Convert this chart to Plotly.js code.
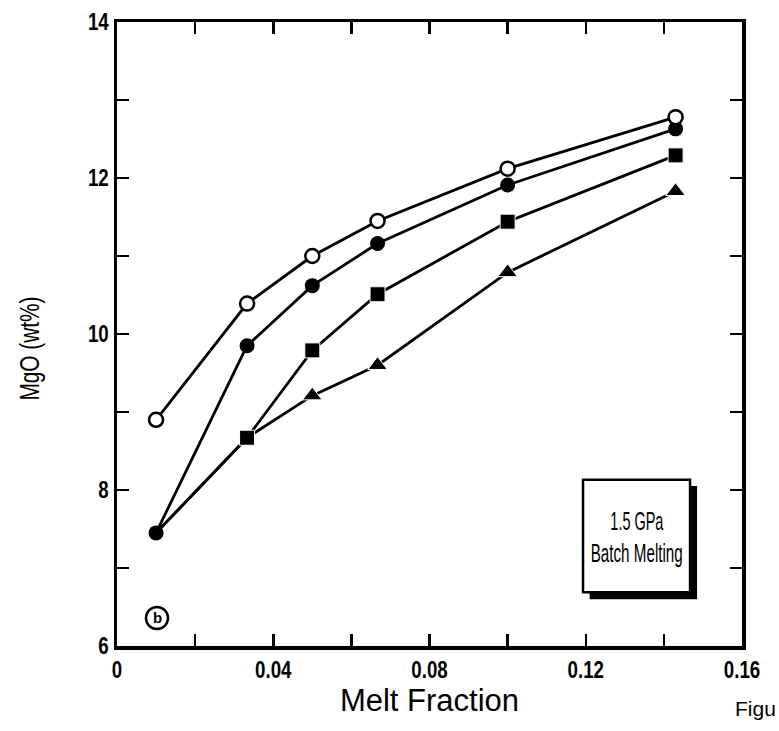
<!DOCTYPE html>
<html>
<head>
<meta charset="utf-8">
<script src="https://cdn.plot.ly/plotly-3.0.1.min.js"></script>
<style>html,body{margin:0;padding:0;background:#fff;}</style>
</head>
<body>
<div id="chart" style="width:779px;height:731px;"></div>
<script>
// Melt fraction values
const meltFraction = [0.01, 0.0333, 0.05, 0.0667, 0.10, 0.143];
// MgO (wt%) series
const mgoOpenCircle   = [8.90, 10.39, 11.00, 11.45, 12.12, 12.78];
const mgoFilledCircle = [7.45, 9.85, 10.62, 11.16, 11.91, 12.63];
const mgoSquare       = [7.45, 8.67, 9.79, 10.51, 11.44, 12.29];
const mgoTriangle     = [7.45, 8.67, 9.21, 9.60, 10.79, 11.83];
// tick labels
const xTickVals = [0, 0.04, 0.08, 0.12, 0.16];
const xTickText = ['0', '0.04', '0.08', '0.12', '0.16'];
const yTickVals = [6, 8, 10, 12, 14];
const yTickText = ['6', '8', '10', '12', '14'];

const lineStyle = {color: '#000', width: 2.8};
const traces = [
  {x: meltFraction, y: mgoTriangle, mode: 'lines+markers', line: lineStyle,
   marker: {symbol: 'triangle-up', color: '#000', opacity: 1, size: [0, 0, 17, 17, 17, 17]}},
  {x: meltFraction, y: mgoSquare, mode: 'lines+markers', line: lineStyle,
   marker: {symbol: 'square', color: '#000', opacity: 1, size: [0, 15, 15, 15, 15, 15]}},
  {x: meltFraction, y: mgoFilledCircle, mode: 'lines+markers', line: lineStyle,
   marker: {symbol: 'circle', color: '#000', opacity: 1, size: 15}},
  {x: meltFraction, y: mgoOpenCircle, mode: 'lines+markers', line: lineStyle,
   marker: {symbol: 'circle', color: '#fff', opacity: 1, size: 14, line: {color: '#000', width: 2.5}}}
];

const fontFam = 'Liberation Sans, Arial, sans-serif';
const axisCommon = {
  showgrid: false, zeroline: false, showline: true, linecolor: '#000', linewidth: 3.5,
  mirror: 'ticks', ticks: 'inside', ticklen: 12, tickwidth: 2.5, tickcolor: '#000',
  tickfont: {family: fontFam, size: 24, color: '#000', weight: 'bold'}
};

const layout = {
  width: 779, height: 731,
  margin: {l: 117, r: 37, t: 22, b: 85},
  paper_bgcolor: '#fff', plot_bgcolor: '#fff',
  showlegend: false,
  xaxis: Object.assign({}, axisCommon, {
    range: [0, 0.16], tickmode: 'array', tickvals: xTickVals, ticktext: xTickText,
    minor: {dtick: 0.02, tick0: 0, ticks: 'inside', ticklen: 12, tickwidth: 2.5, tickcolor: '#000'},
    title: {text: 'Melt Fraction', font: {family: fontFam, size: 31, color: '#000'}, standoff: 0}
  }),
  yaxis: Object.assign({}, axisCommon, {
    range: [6, 14], tickmode: 'array', tickvals: yTickVals, ticktext: yTickText,
    minor: {dtick: 1, tick0: 6, ticks: 'inside', ticklen: 12, tickwidth: 2.5, tickcolor: '#000'}
  }),
  shapes: [
    {type: 'rect', xref: 'x', yref: 'y', x0: 0.1210, x1: 0.1485, y0: 6.60, y1: 8.05,
     fillcolor: '#000', line: {width: 0}},
    {type: 'rect', xref: 'x', yref: 'y', x0: 0.1193, x1: 0.1467, y0: 6.69, y1: 8.13,
     fillcolor: '#fff', line: {color: '#000', width: 2.5}},
    {type: 'circle', xref: 'x', yref: 'y', x0: 0.00742, x1: 0.01306, y0: 6.218, y1: 6.50,
     fillcolor: 'rgba(0,0,0,0)', line: {color: '#000', width: 2.5}}
  ],
  annotations: [
    {xref: 'x', yref: 'y', x: 0.1330, y: 7.60, text: '1.5 GPa', showarrow: false,
     font: {family: fontFam, size: 25, color: '#000'}},
    {xref: 'x', yref: 'y', x: 0.1330, y: 7.19, text: 'Batch Melting', showarrow: false,
     font: {family: fontFam, size: 25, color: '#000'}},
    {xref: 'x', yref: 'y', x: 0.01024, y: 6.36, text: '<b>b</b>', showarrow: false,
     font: {family: fontFam, size: 15, color: '#000'}},
    {xref: 'paper', yref: 'paper', x: -0.139, xanchor: 'center', y: 0.476, yanchor: 'middle',
     text: 'MgO (wt%)', textangle: -90,
     showarrow: false, font: {family: fontFam, size: 27, color: '#000'}},
    {xref: 'paper', yref: 'paper', x: 1.0, xanchor: 'left', xshift: -9, y: -0.078, yanchor: 'top',
     text: 'Figu', showarrow: false, font: {family: fontFam, size: 21, color: '#000'}}
  ]
};

// condensed widths (px) for annotation texts: [annotation index, width]
const condensedText = [[0, 53], [1, 92], [3, 104]];
const tickCondense = 0.78;

Plotly.newPlot('chart', traces, layout, {displayModeBar: false, staticPlot: true}).then(function (gd) {
  const anns = gd.querySelectorAll('g.annotation');
  condensedText.forEach(function (p) {
    const t = anns[p[0]] && anns[p[0]].querySelector('text.annotation-text');
    if (t) {
      t.setAttribute('textLength', p[1]);
      t.setAttribute('lengthAdjust', 'spacingAndGlyphs');
    }
  });
  gd.querySelectorAll('g.xtick text, g.ytick text').forEach(function (t) {
    const w = t.getComputedTextLength();
    t.setAttribute('textLength', (w * tickCondense).toFixed(1));
    t.setAttribute('lengthAdjust', 'spacingAndGlyphs');
  });
});
</script>
</body>
</html>
